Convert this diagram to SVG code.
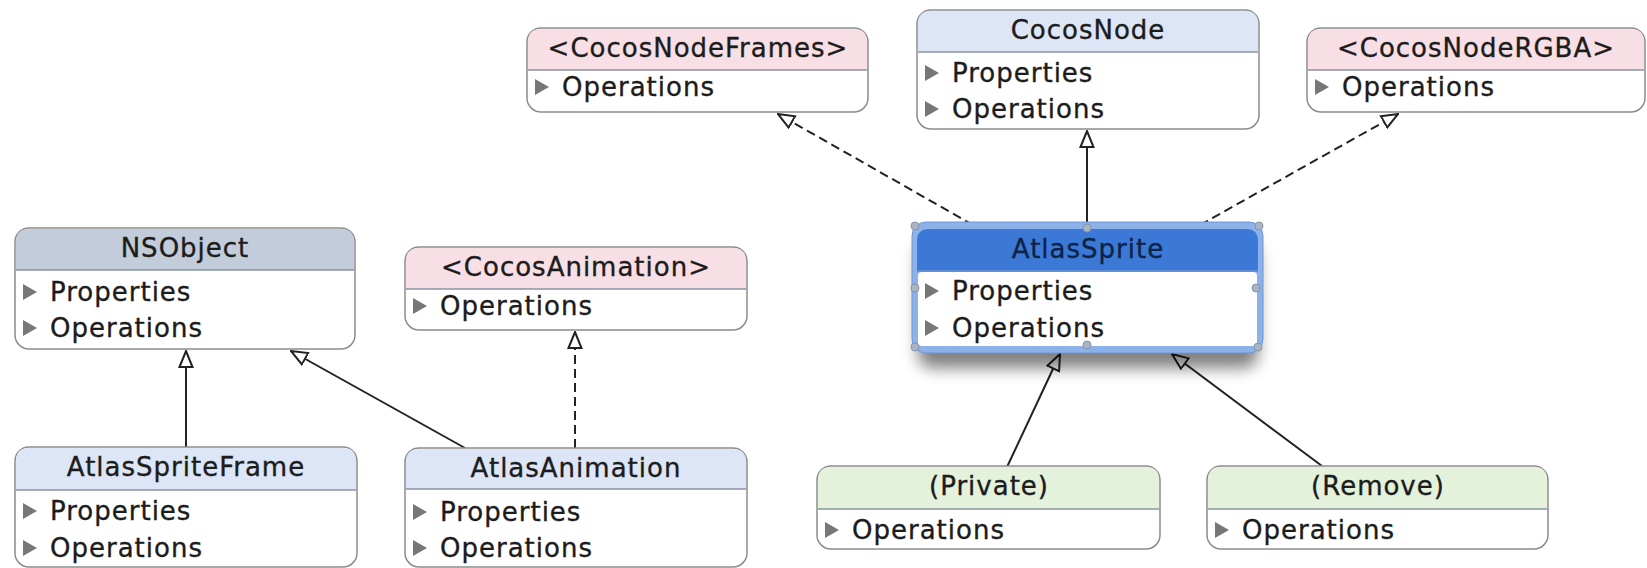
<svg xmlns="http://www.w3.org/2000/svg" width="1647" height="568" viewBox="0 0 1647 568">
  <defs>
    <style>
      .frame { fill: #ffffff; stroke: #8c8c8c; stroke-width: 1.5; }
      .div { stroke: #8a93a2; stroke-width: 1.5; }
      .hdr-proto { fill: #f8dfe5; }
      .hdr-class { fill: #dde6f6; }
      .hdr-root { fill: #c3ccda; }
      .hdr-cat { fill: #e4f2dc; }
      text { font-family: "DejaVu Sans", Verdana, sans-serif; font-size: 26px; letter-spacing: 1px; fill: #1c1c1c; stroke: #1c1c1c; stroke-width: 0.35; }
      .title { text-anchor: middle; }
      .tri { fill: #777777; }
      .edge { fill: none; stroke: #222222; stroke-width: 2; }
      .dash { stroke-dasharray: 9 5; }
      .handle { fill: #a9b4c4; stroke: #8794a8; stroke-width: 1; }
    </style>
    <marker id="gen" viewBox="0 0 18 16" refX="17" refY="8" markerWidth="18" markerHeight="16" markerUnits="userSpaceOnUse" orient="auto">
      <path d="M1,1.5 L17,8 L1,14.5 Z" fill="#ffffff" stroke="#222222" stroke-width="2" stroke-linejoin="miter"/>
    </marker>
    <filter id="shadow" x="-20%" y="-20%" width="140%" height="160%">
      <feGaussianBlur stdDeviation="8"/>
    </filter>
  </defs>

  <rect width="1647" height="568" fill="#ffffff"/>

  <!-- connectors -->
  <g id="connectors">
    <line class="edge" x1="186" y1="447" x2="186" y2="351" marker-end="url(#gen)"/>
    <line class="edge" x1="465" y1="448" x2="291" y2="351" marker-end="url(#gen)"/>
    <line class="edge dash" x1="575" y1="448" x2="575" y2="332" marker-end="url(#gen)"/>
    <line class="edge dash" x1="973" y1="225" x2="778" y2="114" marker-end="url(#gen)"/>
    <line class="edge" x1="1087" y1="225" x2="1087" y2="131" marker-end="url(#gen)"/>
    <line class="edge dash" x1="1200" y1="225" x2="1398" y2="114" marker-end="url(#gen)"/>
    <line class="edge" x1="1007" y1="467" x2="1060" y2="354" marker-end="url(#gen)"/>
    <line class="edge" x1="1322" y1="466" x2="1172" y2="354" marker-end="url(#gen)"/>
  </g>

  <!-- <CocosNodeFrames> -->
  <g id="CocosNodeFrames">
    <rect class="frame" x="527" y="28" width="341" height="84" rx="14"/>
    <path class="hdr-proto" d="M528,70 V42 Q528,29 541,29 H854 Q867,29 867,42 V70 Z"/>
    <line class="div" x1="528" y1="70" x2="867" y2="70"/>
    <text class="title" x="698" y="57">&lt;CocosNodeFrames&gt;</text>
    <path class="tri" d="M535,79 L549,87 L535,95 Z"/>
    <text x="562" y="96">Operations</text>
  </g>

  <!-- CocosNode -->
  <g id="CocosNode">
    <rect class="frame" x="917" y="10" width="342" height="119" rx="14"/>
    <path class="hdr-class" d="M918,52 V24 Q918,11 931,11 H1245 Q1258,11 1258,24 V52 Z"/>
    <line class="div" x1="918" y1="52" x2="1258" y2="52"/>
    <text class="title" x="1088" y="39">CocosNode</text>
    <path class="tri" d="M925,65 L939,73 L925,81 Z"/>
    <text x="952" y="82">Properties</text>
    <path class="tri" d="M925,101 L939,109 L925,117 Z"/>
    <text x="952" y="118">Operations</text>
  </g>

  <!-- <CocosNodeRGBA> -->
  <g id="CocosNodeRGBA">
    <rect class="frame" x="1307" y="28" width="338" height="84" rx="14"/>
    <path class="hdr-proto" d="M1308,70 V42 Q1308,29 1321,29 H1631 Q1644,29 1644,42 V70 Z"/>
    <line class="div" x1="1308" y1="70" x2="1644" y2="70"/>
    <text class="title" x="1476" y="57">&lt;CocosNodeRGBA&gt;</text>
    <path class="tri" d="M1315,79 L1329,87 L1315,95 Z"/>
    <text x="1342" y="96">Operations</text>
  </g>

  <!-- NSObject -->
  <g id="NSObject">
    <rect class="frame" x="15" y="228" width="340" height="121" rx="14"/>
    <path class="hdr-root" d="M16,270 V242 Q16,229 29,229 H341 Q354,229 354,242 V270 Z"/>
    <line class="div" x1="16" y1="270" x2="354" y2="270"/>
    <text class="title" x="185" y="257">NSObject</text>
    <path class="tri" d="M23,284 L37,292 L23,300 Z"/>
    <text x="50" y="301">Properties</text>
    <path class="tri" d="M23,320 L37,328 L23,336 Z"/>
    <text x="50" y="337">Operations</text>
  </g>

  <!-- <CocosAnimation> -->
  <g id="CocosAnimation">
    <rect class="frame" x="405" y="247" width="342" height="83" rx="14"/>
    <path class="hdr-proto" d="M406,289 V261 Q406,248 419,248 H733 Q746,248 746,261 V289 Z"/>
    <line class="div" x1="406" y1="289" x2="746" y2="289"/>
    <text class="title" x="576" y="276">&lt;CocosAnimation&gt;</text>
    <path class="tri" d="M413,298 L427,306 L413,314 Z"/>
    <text x="440" y="315">Operations</text>
  </g>

  <!-- AtlasSprite (selected) -->
  <g id="AtlasSprite">
    <rect x="918" y="242" width="340" height="126" rx="14" fill="#000000" opacity="0.5" filter="url(#shadow)"/>
    <rect x="912" y="222" width="351" height="131" rx="14" fill="#8db2ea" stroke="#6f97d6" stroke-width="1"/>
    <path d="M917,270 V241 Q917,229 929,229 H1246 Q1258,229 1258,241 V270 Z" fill="#3c79d6"/>
    <rect x="918" y="272" width="339" height="74" rx="4" fill="#ffffff"/>
    <line x1="917" y1="271" x2="1258" y2="271" stroke="#5f8fd8" stroke-width="2"/>
    <text class="title" x="1088" y="258" style="fill:#0f2346;stroke:#0f2346">AtlasSprite</text>
    <path class="tri" d="M925,283 L939,291 L925,299 Z"/>
    <text x="952" y="300">Properties</text>
    <path class="tri" d="M925,320 L939,328 L925,336 Z"/>
    <text x="952" y="337">Operations</text>
    <circle class="handle" cx="915" cy="226" r="4"/>
    <circle class="handle" cx="1087" cy="228" r="4"/>
    <circle class="handle" cx="1259" cy="226" r="4"/>
    <circle class="handle" cx="915" cy="288" r="4"/>
    <circle class="handle" cx="1256" cy="288" r="4"/>
    <circle class="handle" cx="915" cy="347" r="4"/>
    <circle class="handle" cx="1087" cy="345" r="4"/>
    <circle class="handle" cx="1258" cy="347" r="4"/>
  </g>

  <!-- AtlasSpriteFrame -->
  <g id="AtlasSpriteFrame">
    <rect class="frame" x="15" y="447" width="342" height="120" rx="14"/>
    <path class="hdr-class" d="M16,490 V461 Q16,448 29,448 H343 Q356,448 356,461 V490 Z"/>
    <line class="div" x1="16" y1="490" x2="356" y2="490"/>
    <text class="title" x="186" y="476">AtlasSpriteFrame</text>
    <path class="tri" d="M23,503 L37,511 L23,519 Z"/>
    <text x="50" y="520">Properties</text>
    <path class="tri" d="M23,540 L37,548 L23,556 Z"/>
    <text x="50" y="557">Operations</text>
  </g>

  <!-- AtlasAnimation -->
  <g id="AtlasAnimation">
    <rect class="frame" x="405" y="448" width="342" height="119" rx="14"/>
    <path class="hdr-class" d="M406,489 V462 Q406,449 419,449 H733 Q746,449 746,462 V489 Z"/>
    <line class="div" x1="406" y1="489" x2="746" y2="489"/>
    <text class="title" x="576" y="477">AtlasAnimation</text>
    <path class="tri" d="M413,504 L427,512 L413,520 Z"/>
    <text x="440" y="521">Properties</text>
    <path class="tri" d="M413,540 L427,548 L413,556 Z"/>
    <text x="440" y="557">Operations</text>
  </g>

  <!-- (Private) -->
  <g id="Private">
    <rect class="frame" x="817" y="466" width="343" height="83" rx="14"/>
    <path class="hdr-cat" d="M818,509 V480 Q818,467 831,467 H1146 Q1159,467 1159,480 V509 Z"/>
    <line class="div" x1="818" y1="509" x2="1159" y2="509"/>
    <text class="title" x="989" y="495">(Private)</text>
    <path class="tri" d="M825,522 L839,530 L825,538 Z"/>
    <text x="852" y="539">Operations</text>
  </g>

  <!-- (Remove) -->
  <g id="Remove">
    <rect class="frame" x="1207" y="466" width="341" height="83" rx="14"/>
    <path class="hdr-cat" d="M1208,509 V480 Q1208,467 1221,467 H1534 Q1547,467 1547,480 V509 Z"/>
    <line class="div" x1="1208" y1="509" x2="1547" y2="509"/>
    <text class="title" x="1378" y="495">(Remove)</text>
    <path class="tri" d="M1215,522 L1229,530 L1215,538 Z"/>
    <text x="1242" y="539">Operations</text>
  </g>
</svg>
